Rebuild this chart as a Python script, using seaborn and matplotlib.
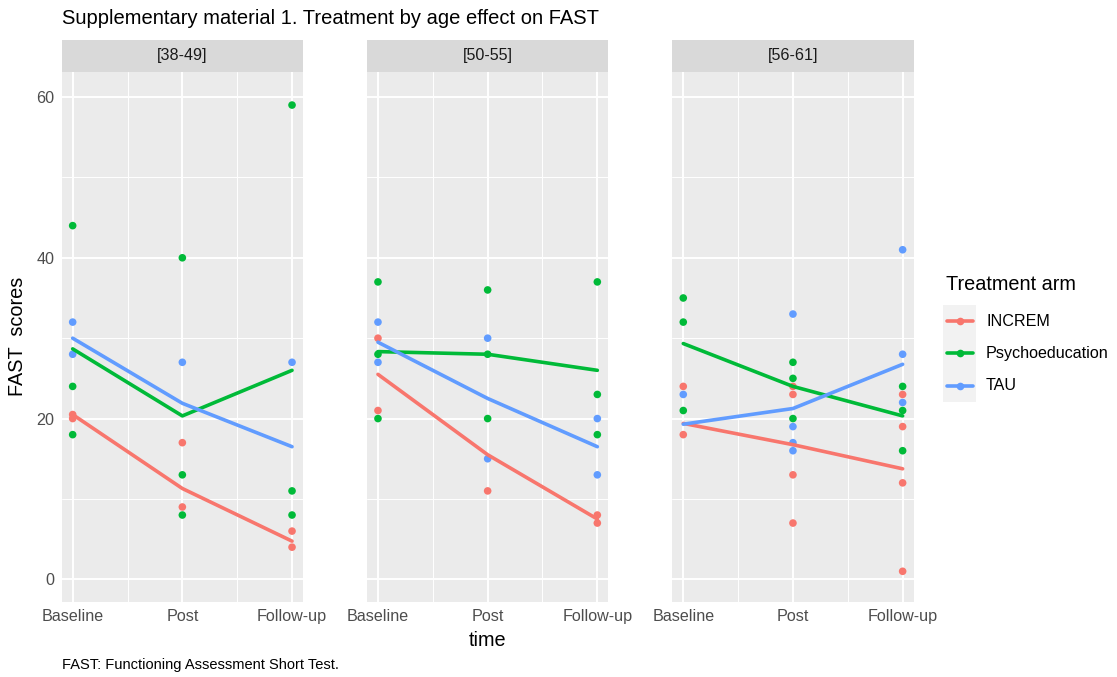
import matplotlib
matplotlib.use("Agg")
import matplotlib.pyplot as plt
import numpy as np
import pandas as pd
import seaborn as sns
from matplotlib.lines import Line2D
from matplotlib.patches import Rectangle

# ---- categories -------------------------------------------------------------
age_groups = ["[38-49]", "[50-55]", "[56-61]"]
time_labels = ["Baseline", "Post", "Follow-up"]
arms = ["INCREM", "Psychoeducation", "TAU"]
arm_colors = ["#F8766D", "#00BA38", "#619CFF"]

# ---- individual FAST scores: per age group -> [Baseline, Post, Follow-up] ----
tau_scores = [
    [[32, 28], [27], [27]],
    [[32, 27], [30, 15], [20, 13]],
    [[23], [33, 19, 17, 16], [41, 28, 22]],
]
increm_scores = [
    [[20.5, 20], [17, 9], [6, 4]],
    [[30, 21], [11], [8, 7]],
    [[24, 18], [24, 23, 13, 7], [23, 19, 12, 1]],
]
psycho_scores = [
    [[44, 24, 18], [40, 13, 8], [59, 11, 8]],
    [[37, 28, 20], [36, 28, 20], [37, 23, 18]],
    [[35, 32, 21], [27, 25, 20], [24, 21, 16]],
]

# ---- smoothed group trends: per age group -> [Baseline, Post, Follow-up] -----
increm_trend = [[20.5, 11.3, 4.75], [25.5, 15.5, 7.5], [19.4, 16.75, 13.75]]
psycho_trend = [[28.67, 20.33, 26.0], [28.33, 28.0, 26.0], [29.33, 24.0, 20.33]]
tau_trend = [[30.0, 21.9, 16.5], [29.5, 22.5, 16.5], [19.3, 21.25, 26.75]]

# ---- long tables --------------------------------------------------------------
rows = []
for arm, scores in [("TAU", tau_scores), ("INCREM", increm_scores),
                    ("Psychoeducation", psycho_scores)]:
    for g, age in enumerate(age_groups):
        for t, vals in enumerate(scores[g]):
            for v in vals:
                rows.append({"age": age, "time": t + 1, "arm": arm, "score": v})
points = pd.DataFrame(rows)

trows = []
for arm, trend in [("INCREM", increm_trend), ("Psychoeducation", psycho_trend),
                   ("TAU", tau_trend)]:
    for g, age in enumerate(age_groups):
        for t, v in enumerate(trend[g]):
            trows.append({"age": age, "time": t + 1, "arm": arm, "score": v})
trends = pd.DataFrame(trows)

palette = dict(zip(arms, arm_colors))

# ---- figure -------------------------------------------------------------------
sns.set_style("white")
plt.rcParams["font.family"] = ["Liberation Sans", "DejaVu Sans"]

W, H = 1117, 677
fig = plt.figure(figsize=(W / 100, H / 100), dpi=100)
fig.patch.set_facecolor("white")

panel_left = [61.7, 367.0, 672.3]
panel_w = 241.3
panel_top, panel_bot = 71.7, 602.0
strip_top = 40.0


def fx(px):
    return px / W


def fy(py):
    return 1 - py / H


for g, age in enumerate(age_groups):
    ax = fig.add_axes([fx(panel_left[g]), fy(panel_bot),
                       fx(panel_w), (panel_bot - panel_top) / H])
    ax.set_facecolor("#EBEBEB")
    for s in ax.spines.values():
        s.set_visible(False)

    sns.scatterplot(data=points[points["age"] == age], x="time", y="score",
                    hue="arm", hue_order=arms, palette=palette, s=30,
                    linewidth=0, legend=False, ax=ax, zorder=3)
    sns.lineplot(data=trends[trends["age"] == age], x="time", y="score",
                 hue="arm", hue_order=arms, palette=palette, linewidth=2.6,
                 errorbar=None, legend=False, ax=ax, zorder=4)

    ax.set_xlim(0.9, 3.1)
    ax.set_ylim(-2.82, 63.15)
    ax.set_xticks([1, 2, 3])
    ax.set_xticklabels(time_labels)
    ax.set_xticks([1.5, 2.5], minor=True)
    ax.set_yticks([0, 20, 40, 60])
    ax.set_yticks([10, 30, 50], minor=True)
    ax.set_axisbelow(True)
    ax.grid(which="major", color="white", linewidth=1.4)
    ax.grid(which="minor", color="white", linewidth=0.7)
    ax.tick_params(which="minor", length=0)
    ax.tick_params(which="major", length=2.7, width=0.9, color="#333333",
                   labelsize=11.6, labelcolor="#4D4D4D", pad=2.5)
    ax.set_xlabel("")
    ax.set_ylabel("")
    if g > 0:
        ax.tick_params(axis="y", left=False, labelleft=False)

    # facet strip
    sax = fig.add_axes([fx(panel_left[g]), fy(panel_top),
                        fx(panel_w), (panel_top - strip_top) / H])
    sax.set_facecolor("#D9D9D9")
    sax.set_xticks([])
    sax.set_yticks([])
    for s in sax.spines.values():
        s.set_visible(False)
    sax.text(0.5, 0.5, age, ha="center", va="center", fontsize=11.6,
             color="#1A1A1A", transform=sax.transAxes)

# ---- titles -------------------------------------------------------------------
fig.text(fx(62), fy(18), "Supplementary material 1. Treatment by age effect on FAST",
         ha="left", va="center", fontsize=14.5, color="black")
fig.text(fx(18), fy((panel_top + panel_bot) / 2), "FAST  scores", rotation=90,
         ha="center", va="center", fontsize=14.3, color="black")
fig.text(fx((panel_left[0] + panel_left[2] + panel_w) / 2), fy(641), "time",
         ha="center", va="center", fontsize=14.3, color="black")
fig.text(fx(62), fy(665), "FAST: Functioning Assessment Short Test.",
         ha="left", va="center", fontsize=10.5, color="black")

# ---- legend ---------------------------------------------------------------------
fig.text(fx(946), fy(285), "Treatment arm", ha="left", va="center",
         fontsize=14.3, color="black")
key_h = 32.3
key_y0 = 321.0
fig.add_artist(Rectangle((fx(943), fy(key_y0 - key_h / 2 + 3 * key_h)),
                         fx(33), 3 * key_h / H, transform=fig.transFigure,
                         facecolor="#F2F2F2", edgecolor="none"))
for i, arm in enumerate(arms):
    yc = key_y0 + i * key_h
    fig.add_artist(Line2D([fx(947), fx(973)], [fy(yc), fy(yc)],
                          transform=fig.transFigure, color=palette[arm],
                          linewidth=2.6))
    fig.add_artist(Line2D([fx(960)], [fy(yc)], transform=fig.transFigure,
                          color=palette[arm], marker="o", markersize=5.5,
                          markeredgewidth=0, linestyle="none"))
    fig.text(fx(986), fy(yc), arm, ha="left", va="center", fontsize=11.6,
             color="black")

fig.savefig("out.png", dpi=100, facecolor="white")
